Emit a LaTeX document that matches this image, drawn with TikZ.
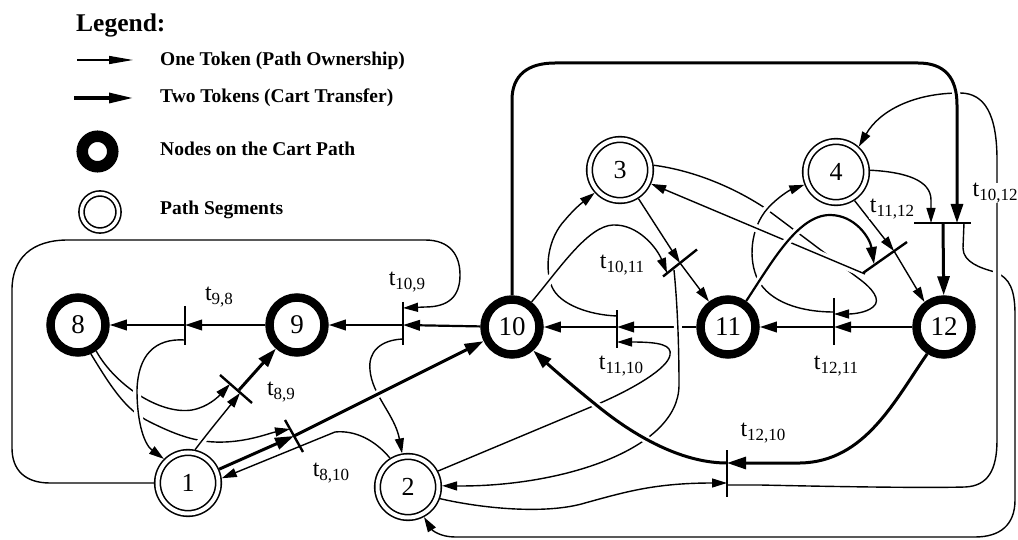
\documentclass[tikz,border=0pt]{standalone}
\usepackage{fontspec}
\setmainfont{Liberation Serif}
\usetikzlibrary{arrows.meta,calc}
\pgfdeclarelayer{bg}
\pgfsetlayers{bg,main}
\newcommand{\tlbl}[1]{t\raisebox{-3.5pt}{\fontsize{17}{17}\selectfont #1}}
\tikzset{
  cart/.style={circle,draw,fill=white,line width=8.5pt,minimum size=55pt,inner sep=0pt,outer sep=4.25pt,font=\fontsize{27}{27}\selectfont},
  seg/.style={circle,draw,fill=white,line width=1.6pt,double,double distance=4pt,minimum size=61pt,inner sep=0pt,outer sep=3.6pt,font=\fontsize{26}{26}\selectfont},
  one/.style={line width=1.4pt,-{Triangle[length=15pt,width=9pt]}},
  mid/.style={line width=2.2pt,-{Triangle[length=17pt,width=10.5pt]}},
  two/.style={line width=3pt,-{Triangle[length=19pt,width=12pt]}},
  halo/.style={preaction={draw=white,line width=8pt,arrows=-,shorten <=#1,shorten >=18pt}},
  halo/.default=7pt,
  bar/.style={line width=2.4pt},
  lab/.style={font=\fontsize{24}{24}\selectfont,inner sep=0.5pt},
  legtxt/.style={anchor=base west,inner sep=0pt,font=\fontsize{19.5}{19.5}\selectfont\bfseries}
}
\begin{document}
\begin{tikzpicture}[x=1pt,y=-1pt]
\useasboundingbox (0,0) rectangle (1018,540);

% ---------- legend ----------
\node[anchor=base west,inner sep=0pt,font=\fontsize{25.5}{25.5}\selectfont\bfseries] (lg) at (76,32) {Legend:};
\coordinate (la1) at (77,60); \coordinate (la2) at (133,60);
\draw[line width=1.4pt,-{Triangle[length=24pt,width=8pt]}] (la1) -- (la2);
\coordinate (lb1) at (74,98); \coordinate (lb2) at (133,98);
\draw[line width=3.2pt,-{Triangle[length=24pt,width=10pt]}] (lb1) -- (lb2);
\node[circle,draw,fill=white,line width=11.5pt,minimum size=30.5pt,inner sep=0pt] (lc) at (97.5,151.5) {};
\node[circle,draw,fill=white,line width=1.6pt,double,double distance=3.5pt,minimum size=37pt,inner sep=0pt] (ld) at (100,212) {};
\node[legtxt] (lt1) at (160,66) {One Token (Path Ownership)};
\node[legtxt] (lt2) at (160,103) {Two Tokens (Cart Transfer)};
\node[legtxt] (lt3) at (160,156) {Nodes on the Cart Path};
\node[legtxt] (lt4) at (160,215) {Path Segments};

% ---------- places ----------
\node[cart] (n8) at (78,325) {8};
\node[cart] (n9) at (297,325) {9};
\node[cart] (n10) at (512,327) {10};
\node[cart] (n11) at (728,327) {11};
\node[cart] (n12) at (944,327) {12};
\node[seg] (n1) at (188,483) {1};
\node[seg] (n2) at (408,487) {2};
\node[seg] (n3) at (620,170) {3};
\node[seg] (n4) at (836,172) {4};

% ---------- transitions (centres) ----------
\coordinate (t98) at (185,325);
\coordinate (t109) at (403,325);
\coordinate (t1110) at (617,327);
\coordinate (t1211) at (834,327);
\coordinate (t1210) at (727,473);
\coordinate (t1012) at (943,223);
\coordinate (t89) at (236,389);
\coordinate (t810) at (294,436);
\coordinate (t1011) at (680,263);
\coordinate (t1112) at (885,257);

\begin{pgfonlayer}{bg}
% main chain, left
\draw[mid] (n9) -- (t98);
\draw[mid] (t98) -- (n8);
\draw[mid] (n10) -- (t109);
\draw[mid] (t109) -- (n9);
% outer left frame: 1 -> t10,9
\draw[one] (n1.west) -- (50,483) .. controls (25,483) and (12,470) .. (12,448) -- (12,290)
  .. controls (12,258) and (32,240) .. (68,240) -- (425,240)
  .. controls (450,240) and (460,255) .. (460,275)
  .. controls (460,297) and (448,307) .. (425,307) -- ($(t109)+(0,-17)$);
% t10,9 -> 2
\draw[one] ($(t109)+(0,14)$) .. controls (380,340) and (368,352) .. (370,370)
  .. controls (372,395) and (395,415) .. (n2.100);
% 8 -> t8,9 and 8 -> t8,10
\draw[one] (n8.-55) .. controls (115,385) and (160,415) .. (192,410)
  .. controls (208,407) and (218,397) .. ($(t89)+(-6,-5)$);
\draw[one] (n8.-66) .. controls (110,385) and (125,410) .. (150,422)
  .. controls (180,437) and (200,443) .. (225,442)
  .. controls (250,441) and (270,433) .. ($(t810)+(-4,-7)$);
% t9,8 -> 1
\draw[one,halo] ($(t98)+(0,15)$) .. controls (155,338) and (138,355) .. (137,390)
  .. controls (137,425) and (145,445) .. (n1.135);
% 1 -> t8,9 -> 9
\draw[one,halo=1pt] (n1.78) .. controls (210,430) and (225,412) .. ($(t89)+(4,4)$);
\draw[two] ($(t89)+(3,1)$) -- (n9);
% 2 -> 1 (lower line through t8,10)
\draw[one] (n2.122) .. controls (375,440) and (355,430) .. (335,432) -- (n1.8);
% 1 -> t8,10 -> 10
\draw[two] (n1) -- (t810);
\draw[two,halo] (t810) -- (n10);
% 2 -> t12,10
\draw[one] (n2.-20) .. controls (480,508) and (545,515) .. (585,503)
  .. controls (625,492) and (655,483) .. ($(t1210)+(0,10)$);
% 11 -> t11,10 -> 10
\draw[mid] (n11) -- (t1110);
\draw[mid] (t1110) -- (n10);
% 2 -> t11,10
\draw[one] (n2.28) -- (598,404) .. controls (635,388) and (668,368) .. (670,355)
  .. controls (672,345) and (660,342) .. ($(t1110)+(0,15)$);
% t11,10 -> 3
\draw[one] ($(t1110)+(0,-11)$) .. controls (590,315) and (560,305) .. (552,287)
  .. controls (544,268) and (548,238) .. (565,220)
  .. controls (575,208) and (583,202) .. (n3.-138);
% 10 -> t10,11
\draw[one,halo] (n10.52) .. controls (560,268) and (588,226) .. (613,225)
  .. controls (638,224) and (657,248) .. ($(t1011)+(-13,10)$);
% 3 -> t10,11 -> 11
\draw[one] (n3) -- (t1011);
\draw[one] (t1011) -- (n11);
% t10,11 -> 2
\draw[one,halo] ($(t1011)+(-6,7)$) .. controls (677,300) and (679,340) .. (679,385)
  .. controls (679,450) and (560,487) .. (n2.2);
% 12 -> t12,10 -> 10
\draw[two] (n12.-122) .. controls (895,400) and (865,462) .. (800,463) -- ($(t1210)+(0,-10)$);
\draw[two,halo] ($(t1210)+(0,-10)$) .. controls (685,463) and (640,440) .. (600,408)
  .. controls (575,388) and (552,368) .. (n10.-48);
% t10,12 -> 2 (outer loop)
\draw[one] ($(t1012)+(21,0)$) -- (963,248) .. controls (963,262) and (980,268) .. (995,272)
  .. controls (1010,278) and (1015,290) .. (1015,315) -- (1015,500)
  .. controls (1015,525) and (1000,537) .. (975,537) -- (455,537)
  .. controls (440,537) and (432,530) .. (n2.-62);
% t12,10 -> 4
\draw[one,halo] ($(t1210)+(0,12)$) -- (760,485) .. controls (850,487) and (930,488) .. (965,487)
  .. controls (988,486) and (997,470) .. (997,440) -- (997,160)
  .. controls (997,115) and (985,93) .. (960,93)
  .. controls (915,93) and (880,110) .. (n4.48);
% 10 -> t10,12 (thick frame)
\draw[two,halo] (n10.north) -- (512,100) .. controls (512,75) and (528,63) .. (555,63) -- (918,63)
  .. controls (945,63) and (957,78) .. (957,105) -- ($(t1012)+(14,0)$);
% 4 -> t10,12 -> 12
\draw[one] (n4.3) .. controls (905,172) and (931,180) .. (931,200) -- ($(t1012)+(-12,0)$);
\draw[two] (t1012) -- (n12);
% 12 -> t12,11 -> 11
\draw[mid] (n12) -- (t1211);
\draw[mid] (t1211) -- (n11);
% 3 -> t12,11
\draw[one] (n3.8) .. controls (690,170) and (730,185) .. (765,208) -- (858,278)
  .. controls (872,288) and (882,300) .. (873,307)
  .. controls (866,313) and (852,314) .. ($(t1211)+(0,-13)$);
% t12,11 -> 4
\draw[one,halo] ($(t1211)+(0,-15)$) .. controls (800,312) and (770,302) .. (758,280)
  .. controls (748,260) and (750,228) .. (768,208)
  .. controls (778,197) and (790,190) .. (n4.-158);
% t11,12 -> 3
\draw[one,halo] ($(t1112)+(-20,17)$) -- (n3.-24);
% 11 -> t11,12
\draw[mid,halo] (n11.55) .. controls (772,262) and (798,215) .. (830,215)
  .. controls (855,215) and (870,238) .. ($(t1112)+(-11,7)$);
% 4 -> t11,12 -> 12
\draw[one] (n4.-57) -- ($(t1112)+(9,-6)$);
\draw[one] ($(t1112)+(9,-6)$) -- (n12.128);
\end{pgfonlayer}

% ---------- transition bars ----------
\draw[bar] ($(t98)+(0,-19)$) -- ($(t98)+(0,20)$);
\draw[bar] ($(t109)+(0,-23)$) -- ($(t109)+(0,20)$);
\draw[bar] ($(t1110)+(0,-17)$) -- ($(t1110)+(0,21)$);
\draw[bar] ($(t1211)+(0,-29)$) -- ($(t1211)+(0,18)$);
\draw[bar] ($(t1210)+(0,-23)$) -- ($(t1210)+(0,24)$);
\draw[bar] ($(t1012)+(-29,0)$) -- ($(t1012)+(28,0)$);
\draw[bar] ($(t89)+(-16,-14)$) -- ($(t89)+(16,14)$);
\draw[bar] ($(t810)+(-9,-16)$) -- ($(t810)+(9,16)$);
\draw[bar] ($(t1011)+(-17,13.5)$) -- ($(t1011)+(17,-13.5)$);
\draw[bar] ($(t1112)+(-22,16)$) -- ($(t1112)+(22,-15)$);

% ---------- transition labels ----------
\node[lab] (l98) at (219,297) {\tlbl{9,8}};
\node[lab] (l109) at (407,282) {\tlbl{10,9}};
\node[lab] (l89) at (281,392) {\tlbl{8,9}};
\node[lab] (l810) at (331,473) {\tlbl{8,10}};
\node[lab] (l1011) at (622,265) {\tlbl{10,11}};
\node[lab] (l1110) at (621,366) {\tlbl{11,10}};
\node[lab] (l1211) at (836,366) {\tlbl{12,11}};
\node[lab,fill=white] (l1112) at (892,209) {\tlbl{11,12}};
\node[lab,fill=white,anchor=west] (l1012) at (972,193) {\tlbl{10,12}};
\node[lab] (l1210) at (763,433) {\tlbl{12,10}};
\end{tikzpicture}
\end{document}
